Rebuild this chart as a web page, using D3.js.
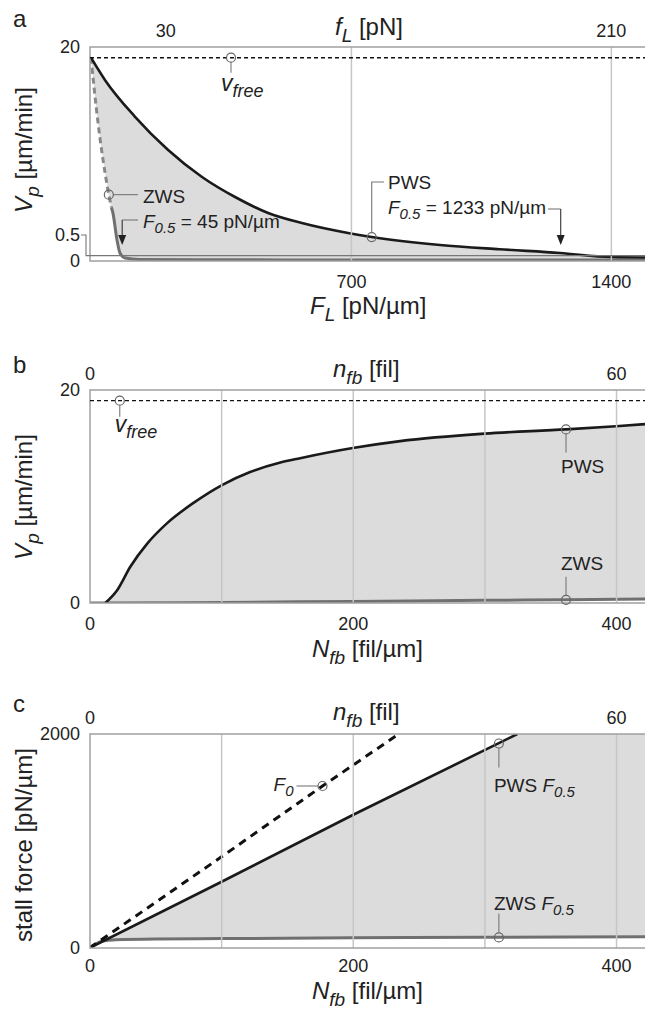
<!DOCTYPE html>
<html>
<head>
<meta charset="utf-8">
<script src="https://cdn.jsdelivr.net/npm/d3@7"></script>
<style>
body{margin:0;background:#fff;}
</style>
</head>
<body>
<script>
// panel a : polymerization velocity vs load force
var aPwsF = [0, 38, 118, 207, 299, 388, 477, 568, 692, 756, 940, 1100, 1263, 1400, 1492];
var aPwsV = [19.0, 16.9, 13.5, 10.4, 7.85, 5.98, 4.49, 3.55, 2.62, 2.24, 1.5, 1.1, 0.75, 0.37, 0.33];
var aZwsF = [0, 19, 38, 48, 55, 59, 70, 78, 92, 130, 300, 700, 1492];
var aZwsV = [19.0, 12.9, 8.2, 6.2, 5.0, 4.5, 1.96, 0.75, 0.28, 0.15, 0.12, 0.1, 0.1];
var aZwsDashEnd = 55;
var aXTicks = [700, 1400];
var aTopTicks = [30, 210];
var aYTicks = [0, 20];

// panel b : velocity vs filament density
var bPwsN = [12, 21, 31, 44, 59, 79, 101, 122, 145, 160, 200, 236, 300, 362, 400, 422];
var bPwsV = [0, 1.2, 3.4, 5.6, 7.5, 9.4, 11.1, 12.3, 13.2, 13.6, 14.55, 15.2, 15.9, 16.3, 16.6, 16.8];
var bZwsN = [0, 100, 200, 300, 362, 422];
var bZwsV = [0, 0.05, 0.15, 0.25, 0.3, 0.37];

// panel c : stall force vs filament density
var cF0N = [0, 100, 177, 235];
var cF0F = [0, 850, 1514, 2000];
var cPwsN = [0, 100, 200, 325];
var cPwsF = [0, 617, 1243, 2000];
var cZwsN = [0, 5, 10, 20, 50, 100, 200, 300, 422];
var cZwsF = [0, 40, 65, 78, 85, 88, 95, 100, 105];

var vFree = 19;
var nXTicks = [200, 400];
var nGrid = [100, 200, 300, 400];
var nTopTicks = [0, 60];
var nPerN = 0.15;       // n_fb = 0.15 * N_fb
var fPerF = 210 / 1400; // f_L = F_L * 0.15

var FONT = "'Liberation Sans', Arial, sans-serif";
var INK = "#222";
var FRAME = "#a0a0a0", GRID = "#c6c6c6", FILL = "#dcdcdc";
var PWS = "#1a1a1a", ZWS = "#707070", LEAD = "#777";
var TICK = 18, NOTE = 19, TITLE = 24;
var fmt = d3.format("d");

var svg = d3.select("body").append("svg").attr("width", 645).attr("height", 1010)
  .style("font-family", FONT);

function pts(xs, ys){ return xs.map(function(x, i){ return [x, ys[i]]; }); }

function rich(g, x, y, parts, size, anchor){
  var t = g.append("text").attr("x", x).attr("y", y).attr("font-size", size).attr("fill", INK);
  if(anchor) t.attr("text-anchor", anchor);
  var off = 0;
  parts.forEach(function(p){
    var s = t.append("tspan").text(p[0]);
    var st = p[1] || "";
    if(st.indexOf("i") >= 0) s.attr("font-style", "italic");
    var want = 0;
    if(st.indexOf("s") >= 0){ s.attr("font-size", Math.round(size * 0.78)); want = Math.round(size * 0.28); }
    if(want != off){ s.attr("dy", want - off); off = want; }
  });
  return t;
}

function styleAxis(ax){
  ax.select(".domain").remove();
  ax.selectAll("text").attr("font-size", TICK).attr("font-family", FONT).attr("fill", INK);
}

function panel(id, x, y){
  var g = svg.append("g");
  var l = 90, r = x.range()[1], t = y.range()[1], b = y.range()[0];
  g.append("clipPath").attr("id", "clip" + id).append("rect")
    .attr("x", l).attr("y", t).attr("width", r - l).attr("height", b - t);
  var body = g.append("g").attr("clip-path", "url(#clip" + id + ")");
  return {g: g, body: body, l: l, r: r, t: t, b: b};
}

function fillBetween(p, x, y, upper, lower, curveU, curveL){
  var au = d3.area().x(function(d){ return x(d[0]); }).y0(p.b).y1(function(d){ return y(d[1]); }).curve(curveU);
  var al = d3.area().x(function(d){ return x(d[0]); }).y0(p.b + 2).y1(function(d){ return y(d[1]); }).curve(curveL);
  p.body.append("path").attr("d", au(upper)).attr("fill", FILL);
  p.body.append("path").attr("d", al(lower)).attr("fill", "#fff");
}

function gridLines(p, x, vals){
  var ax = p.g.append("g").attr("transform", "translate(0," + p.b + ")")
    .call(d3.axisBottom(x).tickValues(vals).tickSize(-(p.b - p.t)).tickFormat(""));
  ax.select(".domain").remove();
  ax.selectAll("line").attr("stroke", GRID).attr("stroke-width", 1.5);
}

function frame(p){
  p.g.append("path").attr("d", "M" + p.r + "," + p.t + "H" + p.l + "V" + p.b + "H" + p.r)
    .attr("fill", "none").attr("stroke", FRAME).attr("stroke-width", 1.5);
}

function curve(p, x, y, data, color, w, dash, c){
  var line = d3.line().x(function(d){ return x(d[0]); }).y(function(d){ return y(d[1]); }).curve(c || d3.curveMonotoneX);
  var path = p.body.append("path").attr("d", line(data)).attr("fill", "none")
    .attr("stroke", color).attr("stroke-width", w).attr("stroke-linejoin", "round");
  if(dash) path.attr("stroke-dasharray", dash);
  return path;
}

function freeLine(p, y, v){
  p.g.append("line").attr("x1", p.l).attr("x2", p.r).attr("y1", y(v)).attr("y2", y(v))
    .attr("stroke", "#111").attr("stroke-width", 1.4).attr("stroke-dasharray", "4,3");
}

function marker(g, cx, cy){
  g.append("circle").attr("cx", cx).attr("cy", cy).attr("r", 4.5)
    .attr("fill", "none").attr("stroke", "#666").attr("stroke-width", 1.2);
}

function leader(g, d){
  g.append("path").attr("d", d).attr("fill", "none").attr("stroke", LEAD).attr("stroke-width", 1.1);
}

function arrowDown(g, ax, y0, tip){
  g.append("line").attr("x1", ax).attr("x2", ax).attr("y1", y0).attr("y2", tip - 6)
    .attr("stroke", "#333").attr("stroke-width", 1.1);
  g.append("path").attr("d", "M" + (ax - 4) + "," + (tip - 10) + "L" + (ax + 4) + "," + (tip - 10) + "L" + ax + "," + tip + "Z")
    .attr("fill", "#222");
}

function vFreeLabel(g, x0, base){
  rich(g, x0, base, [["v", "i"], ["free", "is"]], 23);
}

function axes(p, xb, xt, y, bTicks, tTicks, yTicks, bPad){
  styleAxis(p.g.append("g").attr("transform", "translate(0," + p.b + ")")
    .call(d3.axisBottom(xb).tickValues(bTicks).tickSize(0).tickPadding(bPad || 14).tickFormat(fmt)));
  styleAxis(p.g.append("g").attr("transform", "translate(0," + p.t + ")")
    .call(d3.axisTop(xt).tickValues(tTicks).tickSize(0).tickPadding(10).tickFormat(fmt)));
  styleAxis(p.g.append("g").attr("transform", "translate(90,0)")
    .call(d3.axisLeft(y).tickValues(yTicks).tickSize(0).tickPadding(10).tickFormat(fmt)));
}

// ================= panel a =================
var xa = d3.scaleLinear().domain([0, 1492]).range([91, 645]);
var xaTop = d3.scaleLinear().domain([0, 1492 * fPerF]).range([91, 645]);
var ya = d3.scaleLinear().domain([0, 20]).range([261, 47]);
var pa = panel("a", xa, ya);
var aPws = pts(aPwsF, aPwsV), aZws = pts(aZwsF, aZwsV);
fillBetween(pa, xa, ya, aPws, aZws, d3.curveMonotoneX, d3.curveMonotoneX);
gridLines(pa, xa, aXTicks);
frame(pa);
// 0.5 reference line with bracket to its label
leader(pa.g, "M81,235H86V" + ya(0.5) + "H" + pa.r);
freeLine(pa, ya, vFree);
curve(pa, xa, ya, aZws.filter(function(d){ return d[0] <= aZwsDashEnd; }), "#888", 3, "6,4");
curve(pa, xa, ya, aZws.filter(function(d){ return d[0] >= aZwsDashEnd; }), ZWS, 3);
curve(pa, xa, ya, aPws, PWS, 2.6);
axes(pa, xa, xaTop, ya, aXTicks, aTopTicks, aYTicks);
pa.g.append("text").attr("x", 80).attr("y", 241).attr("text-anchor", "end")
  .attr("font-size", TICK).attr("fill", INK).text("0.5");

// annotations a
var cx = xa(377), cy = ya(vFree);
marker(pa.g, cx, cy);
leader(pa.g, "M" + cx + "," + (cy + 4.5) + "V" + (cy + 15));
vFreeLabel(pa.g, cx - 10, cy + 33);

cx = xa(48); cy = ya(6.2);
marker(pa.g, cx, cy);
leader(pa.g, "M" + (cx + 4.5) + "," + cy + "H138");
rich(pa.g, 143, 203, [["ZWS"]], NOTE);
rich(pa.g, 143, 228, [["F", "i"], ["0.5", "is"], [" = 45 pN/µm"]], NOTE);
leader(pa.g, "M138,220H" + xa(84));
arrowDown(pa.g, xa(84), 220, ya(1.5));

cx = xa(756); cy = ya(2.24);
marker(pa.g, cx, cy);
leader(pa.g, "M" + cx + "," + (cy - 4.5) + "V182H384");
rich(pa.g, 388, 189, [["PWS"]], NOTE);
rich(pa.g, 388, 214, [["F", "i"], ["0.5", "is"], [" = 1233 pN/µm"]], NOTE);
leader(pa.g, "M548,209H" + xa(1265));
arrowDown(pa.g, xa(1265), 209, ya(1.5));

rich(pa.g, 13, 27, [["a"]], TITLE);
rich(pa.g, 335, 35, [["f", "i"], ["L", "is"], [" [pN]"]], TITLE);
rich(pa.g, 310, 314, [["F", "i"], ["L", "is"], [" [pN/µm]"]], TITLE);
rich(pa.g, 0, 0, [["V", "i"], ["p", "is"], [" [µm/min]"]], TITLE, "middle")
  .attr("transform", "translate(32,150) rotate(-90)");

// ================= panel b =================
var xb = d3.scaleLinear().domain([0, 422]).range([89.5, 645]);
var xbTop = d3.scaleLinear().domain([0, 422 * nPerN]).range([89.5, 645]);
var yb = d3.scaleLinear().domain([0, 20]).range([603, 390]);
var pb = panel("b", xb, yb);
var bPws = pts(bPwsN, bPwsV), bZws = pts(bZwsN, bZwsV);
fillBetween(pb, xb, yb, bPws, bZws, d3.curveMonotoneX, d3.curveMonotoneX);
gridLines(pb, xb, nGrid);
frame(pb);
freeLine(pb, yb, vFree);
curve(pb, xb, yb, bZws, ZWS, 3);
curve(pb, xb, yb, bPws, PWS, 2.6);
axes(pb, xb, xbTop, yb, [0].concat(nXTicks), nTopTicks, [0, 20]);

cx = xb(23); cy = yb(vFree);
marker(pb.g, cx, cy);
leader(pb.g, "M" + cx + "," + (cy + 4.5) + "V" + (cy + 16));
vFreeLabel(pb.g, cx - 5, cy + 31);

cx = xb(362); cy = yb(16.3);
marker(pb.g, cx, cy);
leader(pb.g, "M" + cx + "," + (cy + 4.5) + "V" + (cy + 23));
rich(pb.g, cx - 5, cy + 44, [["PWS"]], NOTE);

cy = yb(0.3);
marker(pb.g, cx, cy);
leader(pb.g, "M" + cx + "," + (cy - 4.5) + "V" + (cy - 23));
rich(pb.g, cx - 5, cy - 30, [["ZWS"]], NOTE);

rich(pb.g, 13, 373, [["b"]], TITLE);
rich(pb.g, 333, 377, [["n", "i"], ["fb", "is"], [" [fil]"]], TITLE);
rich(pb.g, 312, 657, [["N", "i"], ["fb", "is"], [" [fil/µm]"]], TITLE);
rich(pb.g, 0, 0, [["V", "i"], ["p", "is"], [" [µm/min]"]], TITLE, "middle")
  .attr("transform", "translate(32,497) rotate(-90)");

// ================= panel c =================
var xc = d3.scaleLinear().domain([0, 422]).range([89.5, 645]);
var xcTop = d3.scaleLinear().domain([0, 422 * nPerN]).range([89.5, 645]);
var yc = d3.scaleLinear().domain([0, 2000]).range([948, 734]);
var pc = panel("c", xc, yc);
var cPws = pts(cPwsN, cPwsF), cZws = pts(cZwsN, cZwsF), cF0 = pts(cF0N, cF0F);
fillBetween(pc, xc, yc, cPws.concat([[xc.domain()[1], yc.domain()[1]]]), cZws, d3.curveLinear, d3.curveMonotoneX);
gridLines(pc, xc, nGrid);
frame(pc);
curve(pc, xc, yc, cZws, ZWS, 3);
curve(pc, xc, yc, cPws, PWS, 2.6, null, d3.curveLinear);
curve(pc, xc, yc, cF0, "#111", 3, "8,6", d3.curveLinear);
axes(pc, xc, xcTop, yc, [0].concat(nXTicks), nTopTicks, [0, 2000], 11);

cx = xc(177); cy = yc(1514);
marker(pc.g, cx, cy);
leader(pc.g, "M" + (cx - 4.5) + "," + cy + "H" + (cx - 26));
rich(pc.g, cx - 29, cy + 5, [["F", "i"], ["0", "is"]], NOTE, "end");

cx = xc(311); cy = yc(1911);
marker(pc.g, cx, cy);
leader(pc.g, "M" + cx + "," + (cy + 4.5) + "V" + (cy + 24));
rich(pc.g, cx - 5, cy + 48, [["PWS "], ["F", "i"], ["0.5", "is"]], NOTE);

cy = yc(99);
marker(pc.g, cx, cy);
leader(pc.g, "M" + cx + "," + (cy - 4.5) + "V" + (cy - 24));
rich(pc.g, cx - 5, cy - 27, [["ZWS "], ["F", "i"], ["0.5", "is"]], NOTE);

rich(pc.g, 13, 712, [["c"]], TITLE);
rich(pc.g, 333, 720, [["n", "i"], ["fb", "is"], [" [fil]"]], TITLE);
rich(pc.g, 312, 999, [["N", "i"], ["fb", "is"], [" [fil/µm]"]], TITLE);
rich(pc.g, 0, 0, [["stall force [pN/µm]"]], TITLE, "middle")
  .attr("transform", "translate(32,845) rotate(-90)");
</script>
</body>
</html>
